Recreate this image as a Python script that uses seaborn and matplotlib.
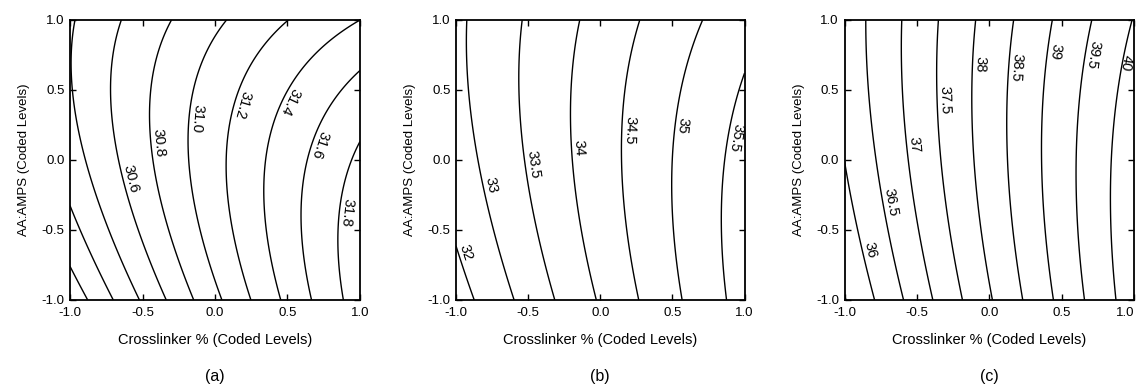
import numpy as np
import matplotlib
matplotlib.use("Agg")
import matplotlib.pyplot as plt
import seaborn as sns

# ---------------- data ----------------
# Each panel: contour values and where each contour crosses a reference line
# (top edge y=+1, a middle line, bottom edge y=-1, left edge x=-1, right edge x=+1).

# Panel (a)
a_levels = [30.0, 30.2, 30.4, 30.6, 30.8, 31.0, 31.2, 31.4, 31.6, 31.8]
a_label_levels = [30.6, 30.8, 31.0, 31.2, 31.4, 31.6, 31.8]
a_label_text = ["30.6", "30.8", "31.0", "31.2", "31.4", "31.6", "31.8"]
a_top_val = [30.4, 30.6, 30.8, 31.0, 31.2, 31.4]
a_top_x = [-0.966, -0.641, -0.290, 0.076, 0.497, 0.986]
a_mid_y = 0.036
a_mid_val = [30.4, 30.6, 30.8, 31.0, 31.2, 31.4, 31.6, 31.8]
a_mid_x = [-0.897, -0.669, -0.428, -0.172, 0.083, 0.359, 0.621, 0.952]
a_bot_val = [30.0, 30.2, 30.4, 30.6, 30.8, 31.0, 31.2, 31.4, 31.6, 31.8]
a_bot_x = [-0.862, -0.690, -0.517, -0.345, -0.152, 0.014, 0.255, 0.469, 0.669, 0.883]
a_left_val = [30.0, 30.2, 30.4]
a_left_y = [-0.771, -0.371, 0.60]
a_right_val = [31.6, 31.8]
a_right_y = [0.63, 0.10]

# Panel (b)
b_levels = [32.5, 33.0, 33.5, 34.0, 34.5, 35.0, 35.5]
b_label_levels = [32.5, 33.0, 33.5, 34.0, 34.5, 35.0, 35.5]
b_label_text = ["32", "33", "33.5", "34", "34.5", "35", "35.5"]
b_top_val = [33.0, 33.5, 34.0, 34.5, 35.0]
b_top_x = [-0.917, -0.543, -0.142, 0.273, 0.702]
b_mid_y = 0.014
b_mid_val = [33.0, 33.5, 34.0, 34.5, 35.0, 35.5]
b_mid_x = [-0.869, -0.502, -0.211, 0.149, 0.502, 0.875]
b_bot_val = [32.5, 33.0, 33.5, 34.0, 34.5, 35.0, 35.5]
b_bot_x = [-0.869, -0.592, -0.315, -0.024, 0.260, 0.564, 0.875]
b_left_val = [32.5]
b_left_y = [-0.63]
b_right_val = [35.5]
b_right_y = [0.62]

# Panel (c)
c_levels = [35.5, 36.0, 36.5, 37.0, 37.5, 38.0, 38.5, 39.0, 39.5, 40.0]
c_label_levels = [36.0, 36.5, 37.0, 37.5, 38.0, 38.5, 39.0, 39.5, 40.0]
c_label_text = ["36", "36.5", "37", "37.5", "38", "38.5", "39", "39.5", "40"]
c_top_val = [36.5, 37.0, 37.5, 38.0, 38.5, 39.0, 39.5, 40.0]
c_top_x = [-0.849, -0.607, -0.342, -0.100, 0.176, 0.429, 0.695, 0.994]
c_mid_y = 0.014
c_mid_val = [36.5, 37.0, 37.5, 38.0, 38.5, 39.0, 39.5, 40.0]
c_mid_x = [-0.782, -0.561, -0.340, -0.112, 0.130, 0.358, 0.600, 0.856]
c_bot_val = [35.5, 36.0, 36.5, 37.0, 37.5, 38.0, 38.5, 39.0, 39.5, 40.0]
c_bot_x = [-0.990, -0.791, -0.596, -0.388, -0.181, 0.026, 0.233, 0.441, 0.660, 0.867]
c_left_val = [36.0]
c_left_y = [-0.036]
c_right_val = []
c_right_y = []

tick_values = [-1.0, -0.5, 0.0, 0.5, 1.0]
tick_labels = ["-1.0", "-0.5", "0.0", "0.5", "1.0"]
x_title = "Crosslinker % (Coded Levels)"
y_title = "AA:AMPS (Coded Levels)"
panel_names = ["(a)", "(b)", "(c)"]

# label anchor positions (layout only)
a_label_pos = [(-0.55, -0.11), (-0.37, 0.13), (-0.08, 0.29), (0.19, 0.38),
               (0.54, 0.38), (0.72, 0.09), (0.91, -0.38)]
b_label_pos = [(-0.92, -0.64), (-0.73, -0.16), (-0.45, -0.02), (-0.19, 0.09),
               (0.18, 0.21), (0.54, 0.24), (0.90, 0.16)]
c_label_pos = [(-0.83, -0.63), (-0.71, -0.30), (-0.54, 0.11), (-0.34, 0.43),
               (-0.08, 0.68), (0.17, 0.66), (0.46, 0.77), (0.73, 0.74), (0.94, 0.69)]


def collect(top_val, top_x, mid_y, mid_val, mid_x, bot_val, bot_x,
            left_val, left_y, right_val, right_y):
    v, x, y = [], [], []
    v += top_val; x += top_x; y += [1.0] * len(top_val)
    v += mid_val; x += mid_x; y += [mid_y] * len(mid_val)
    v += bot_val; x += bot_x; y += [-1.0] * len(bot_val)
    v += left_val; x += [-1.0] * len(left_val); y += left_y
    v += right_val; x += [1.0] * len(right_val); y += right_y
    return np.array(v), np.array(x), np.array(y)


def design(x, y):
    return np.column_stack([np.ones_like(x), x, y, x * y, x ** 2, y ** 2])


def response_surface(v, x, y, gx, gy):
    coef, *_ = np.linalg.lstsq(design(x, y), v, rcond=None)
    return (design(gx.ravel(), gy.ravel()) @ coef).reshape(gx.shape)


panels = [
    (collect(a_top_val, a_top_x, a_mid_y, a_mid_val, a_mid_x, a_bot_val, a_bot_x,
             a_left_val, a_left_y, a_right_val, a_right_y),
     a_levels, a_label_levels, a_label_text, a_label_pos),
    (collect(b_top_val, b_top_x, b_mid_y, b_mid_val, b_mid_x, b_bot_val, b_bot_x,
             b_left_val, b_left_y, b_right_val, b_right_y),
     b_levels, b_label_levels, b_label_text, b_label_pos),
    (collect(c_top_val, c_top_x, c_mid_y, c_mid_val, c_mid_x, c_bot_val, c_bot_x,
             c_left_val, c_left_y, c_right_val, c_right_y),
     c_levels, c_label_levels, c_label_text, c_label_pos),
]

# ---------------- style ----------------
sns.set_theme(style="ticks")
plt.rcParams["font.family"] = ["Liberation Sans", "DejaVu Sans"]
plt.rcParams["axes.unicode_minus"] = False
plt.rcParams["xtick.direction"] = "in"
plt.rcParams["ytick.direction"] = "in"
plt.rcParams["xtick.top"] = True
plt.rcParams["ytick.right"] = True

W, H = 1137, 387
fig = plt.figure(figsize=(W / 100, H / 100), dpi=100)
fig.patch.set_facecolor("white")
boxes_px = [(70, 360), (456, 744.5), (844.5, 1134)]
top_px, bot_px = 20, 300
label_shift = 0.055   # labels sit just to the right of their line
label_xmax = 0.945    # keep labels inside the frame

g = np.linspace(-1, 1, 301)
GX, GY = np.meshgrid(g, g)

axes = []
for (obs, levels, lab_levels, lab_text, lab_pos), (l, r), name in zip(panels, boxes_px, panel_names):
    ax = fig.add_axes([l / W, (H - bot_px) / H, (r - l) / W, (bot_px - top_px) / H])
    axes.append(ax)
    ax.set_facecolor("white")
    Z = response_surface(*obs, GX, GY)
    plain = [lv for lv in levels if lv not in lab_levels]
    if plain:
        ax.contour(GX, GY, Z, levels=plain, colors="black", linewidths=1.0)
    cs = ax.contour(GX, GY, Z, levels=lab_levels, colors="black", linewidths=1.0)
    fmt = {lv: t for lv, t in zip(lab_levels, lab_text)}
    texts = ax.clabel(cs, inline=False, fontsize=10.5, fmt=fmt, manual=lab_pos)
    for t in texts:
        rot = t.get_rotation() % 360
        rot = rot - 180 if rot <= 90 else rot - 360
        t.set_rotation(rot)
        px, py = t.get_position()
        t.set_position((min(px + label_shift, label_xmax), py))
    ax.set_xlim(-1, 1)
    ax.set_ylim(-1, 1)
    ax.set_xticks(tick_values)
    ax.set_xticklabels(tick_labels)
    ax.set_yticks(tick_values)
    ax.set_yticklabels(tick_labels)
    ax.tick_params(axis="x", which="major", length=4, width=1.0, pad=5,
                   labelsize=9.5, colors="black")
    ax.tick_params(axis="y", which="major", length=4, width=1.0, pad=4,
                   labelsize=9.5, colors="black")
    for s in ax.spines.values():
        s.set_linewidth(1.3)
        s.set_color("black")
    ax.set_xlabel(x_title, fontsize=10.5, labelpad=10, color="black")
    ax.set_ylabel(y_title, fontsize=9.5, labelpad=8, color="black")
    ax.text(0.5, -0.275, name, transform=ax.transAxes, ha="center", va="center",
            fontsize=11.5, color="black")

# the last x tick label of the right panel sits at the figure edge: keep it inside
axes[-1].get_xticklabels()[-1].set_horizontalalignment("right")

fig.savefig("out.png", dpi=100, facecolor="white")
